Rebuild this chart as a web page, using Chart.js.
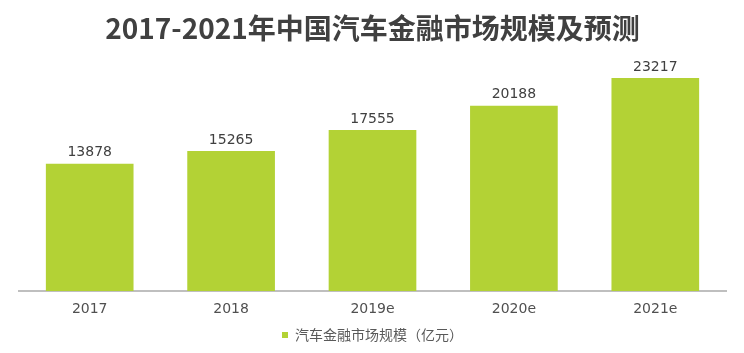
<!DOCTYPE html>
<html>
<head>
<meta charset="utf-8">
<script src="https://cdn.jsdelivr.net/npm/chart.js@4.4.1/dist/chart.umd.min.js"></script>
<style>
  html, body { margin: 0; padding: 0; background: #fff; }
  #wrap { width: 744px; height: 353px; }
</style>
</head>
<body>
<div id="wrap"><canvas id="chart" width="744" height="353"></canvas></div>
<script>
  const categories = ["2017", "2018", "2019e", "2020e", "2021e"];
  const marketSize = [13878, 15265, 17555, 20188, 23217];
  const seriesLabel = "汽车金融市场规模（亿元）";
  const titleText = "2017-2021年中国汽车金融市场规模及预测";

  // value labels above each bar
  const valueLabels = {
    id: "valueLabels",
    afterDatasetsDraw(chart) {
      const ctx = chart.ctx;
      const meta = chart.getDatasetMeta(0);
      ctx.save();
      ctx.font = "14px 'DejaVu Sans', sans-serif";
      ctx.fillStyle = "#404040";
      ctx.textAlign = "center";
      ctx.textBaseline = "bottom";
      meta.data.forEach((bar, i) => {
        ctx.fillText(String(marketSize[i]), bar.x, bar.y - 4);
      });
      ctx.restore();
    }
  };

  new Chart(document.getElementById("chart"), {
    type: "bar",
    data: {
      labels: categories,
      datasets: [{
        label: seriesLabel,
        data: marketSize,
        backgroundColor: "#b3d235",
        borderWidth: 0,
        categoryPercentage: 1,
        barPercentage: 0.62
      }]
    },
    options: {
      responsive: false,
      animation: false,
      layout: { padding: { left: 19, right: 18, top: 0, bottom: 1 } },
      plugins: {
        title: {
          display: true,
          text: titleText,
          color: "#404040",
          font: { family: "'Noto Sans CJK SC', sans-serif", size: 28, weight: "bold" },
          padding: { top: 12, bottom: 16 }
        },
        legend: {
          position: "bottom",
          labels: {
            boxWidth: 6,
            boxHeight: 6,
            color: "#595959",
            padding: 1,
            font: { family: "'Noto Sans CJK SC', sans-serif", size: 14 }
          }
        },
        tooltip: { enabled: false }
      },
      scales: {
        x: {
          grid: { display: false, drawTicks: false },
          border: { display: true, color: "#bfbfbf", width: 2 },
          ticks: {
            color: "#505050",
            padding: 11,
            font: { family: "'DejaVu Sans', sans-serif", size: 14, lineHeight: 1 }
          }
        },
        y: {
          display: false,
          min: 0,
          max: 25000
        }
      }
    },
    plugins: [valueLabels]
  });
</script>
</body>
</html>
